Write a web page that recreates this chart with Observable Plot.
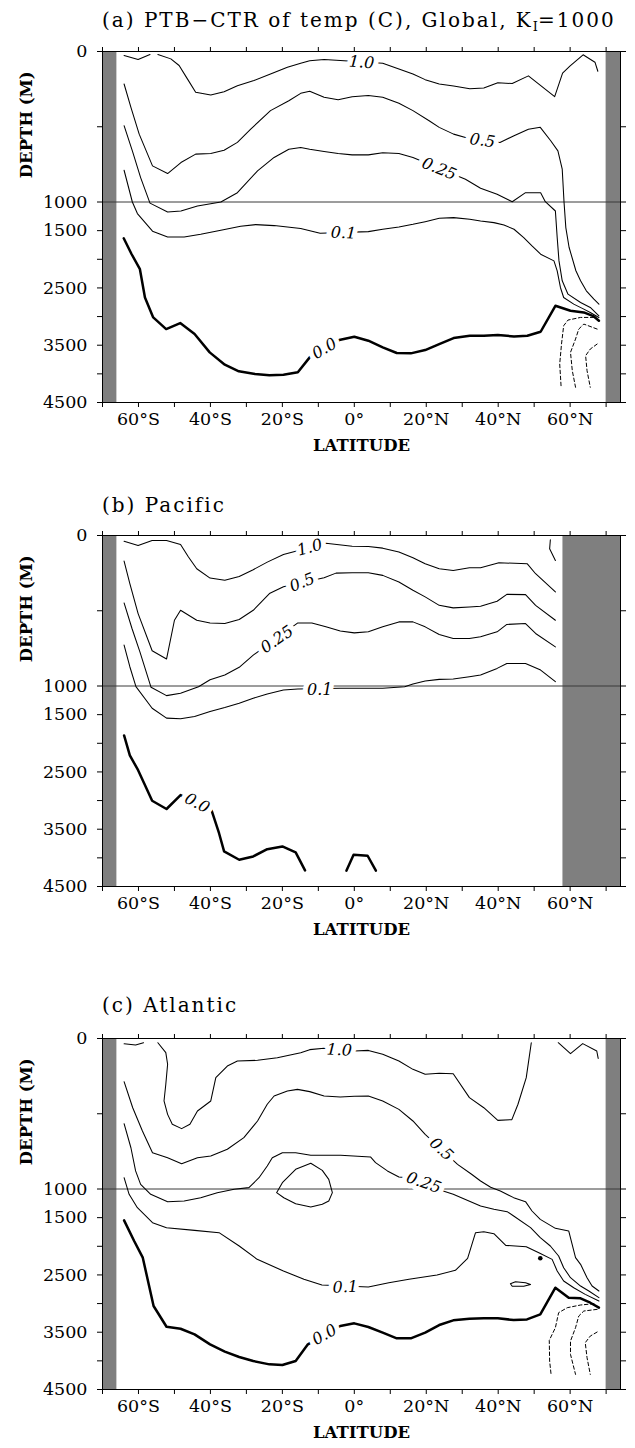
<!DOCTYPE html>
<html><head><meta charset="utf-8">
<script src="https://cdn.jsdelivr.net/npm/d3@7"></script>
<script src="https://cdn.jsdelivr.net/npm/@observablehq/plot@0.6"></script>
<style>
body{margin:0;background:#fff;}
#root{position:relative;width:635px;height:1448px;overflow:hidden;font-family:"DejaVu Serif",serif;color:#000;}
.title{position:absolute;left:102px;font-size:20px;letter-spacing:2px;white-space:nowrap;line-height:22px;}
.title sub{font-size:13px;letter-spacing:0;vertical-align:-4px;line-height:0;}
.panel{position:absolute;left:0;overflow:visible;}
</style></head><body><div id="root"></div>
<script>
// ---- axes ----
const LAT_DOMAIN = [-70, 74];
const LAT_TICKS = [-70,-60,-50,-40,-30,-20,-10,0,10,20,30,40,50,60,70];
const LAT_LABELED = [-60,-40,-20,0,20,40,60];
const DEPTH_BREAKS = [0, 1000, 4500];
const DEPTH_TICKS = [0,500,1000,1500,2000,2500,3000,3500,4000,4500];
const DEPTH_LABELED = [0,1000,1500,2500,3500,4500];

// ---- land masks (lat from, lat to) ----
const landA = [[-70,-66],[70,74]];
const landB = [[-70,-66],[58,74]];
const landC = [[-70,-66],[70,74]];

// ---- panel (a) Global contours [lat, depth] ----
const a_c100_1 = [[-64.0,27],[-60.1,53],[-56.8,20]];
const a_c100_2 = [[-54.6,20],[-51.0,49],[-48.7,93],[-46.4,182],[-44.1,271],[-39.9,289],[-36.2,267],[-32.5,227],[-27.9,193],[-23.3,149],[-18.6,104],[-14.9,78],[-12.4,62],[-8.4,53],[-3.9,60],[7.9,78],[12.4,116],[16.3,149],[19.7,187],[23.6,216],[27.6,229],[32.1,247],[36.0,242],[39.9,207],[43.9,213],[48.4,162],[55.7,300],[57.9,144],[60.0,96],[63.6,22],[66.9,71],[67.7,131]];
const a_c050 = [[-64.0,216],[-62.1,371],[-59.8,549],[-56.1,760],[-51.9,811],[-48.2,738],[-44.1,682],[-39.9,678],[-36.2,656],[-32.5,604],[-28.8,516],[-23.3,393],[-18.2,327],[-14.9,278],[-12.4,264],[-8.4,304],[-4.5,320],[-0.6,300],[3.9,293],[7.9,304],[12.4,344],[16.3,393],[20.8,460],[23.6,504],[27.6,549],[30.9,571],[40.5,604],[44.4,560],[48.4,516],[51.7,504],[54.6,593],[56.6,660],[57.8,782],[58.3,1000],[58.8,1447],[59.7,1790],[61.6,2200],[62.9,2376],[64.5,2550],[66.6,2696],[68.0,2783]];
const a_c025 = [[-64.0,493],[-61.7,660],[-59.4,838],[-56.8,1020],[-51.9,1174],[-48.2,1157],[-43.6,1070],[-37.1,1000],[-32.5,938],[-26.9,793],[-22.3,704],[-18.2,649],[-14.9,638],[-12.4,649],[-8.4,664],[-4.5,678],[-0.6,687],[3.9,687],[7.9,673],[12.4,678],[16.3,704],[30.9,849],[35.1,909],[39.7,949],[43.9,998],[47.6,938],[51.8,938],[53.1,998],[55.9,1157],[56.4,1621],[56.9,2028],[57.8,2376],[59.4,2609],[62.9,2754],[65.6,2841],[68.0,2986]];
const a_c010 = [[-64.0,789],[-61.7,1000],[-60.3,1202],[-56.1,1510],[-51.9,1610],[-47.3,1610],[-42.7,1563],[-37.1,1493],[-31.6,1424],[-27.4,1395],[-22.3,1412],[-14.9,1464],[-9.5,1546],[3.9,1517],[7.9,1476],[12.4,1436],[16.3,1389],[19.7,1343],[23.6,1285],[27.6,1273],[32.1,1302],[35.1,1331],[38.8,1360],[41.6,1401],[44.4,1476],[47.1,1621],[49.4,1767],[51.8,1912],[55.5,2028],[56.4,2202],[57.3,2492],[58.2,2667],[61.0,2783],[63.8,2870],[65.6,2928],[68.0,3015]];
const a_c000 = [[-64.1,1633],[-61.9,1912],[-59.6,2173],[-58.2,2667],[-55.9,3015],[-52.3,3218],[-48.4,3114],[-44.4,3305],[-40.2,3625],[-36.0,3840],[-32.1,3956],[-27.6,4002],[-23.6,4026],[-19.7,4014],[-15.7,3973],[-12.4,3712],[-4.2,3410],[0,3352],[3.9,3421],[7.9,3538],[11.8,3636],[15.7,3642],[19.7,3584],[23.6,3480],[27.6,3375],[32.1,3334],[36.0,3334],[39.9,3323],[44.4,3346],[48.1,3334],[51.8,3265],[55.9,2812],[60.1,2899],[63.8,2928],[66.6,2998],[68.0,3073]];
const a_neg1 = [[66.6,3015],[62.9,3015],[59.4,3061],[58.2,3160],[57.6,3480],[57.1,3828],[57.5,4234]];
const a_neg2 = [[67.5,3218],[63.8,3131],[62.4,3218],[61.5,3392],[60.1,3625],[60.6,3944],[61.5,4234]];
const a_neg3 = [[67.5,3480],[65.6,3567],[64.3,3683],[64.7,3944],[65.6,4234]];
const a_labels = [["1.0",2.0,72,4],["0.5",35.6,592,8],["0.25",23.6,780,22],["0.1",-3.0,1540,3],["0.0",-8.3,3560,-30]];

// ---- panel (b) Pacific ----
const b_c100_1 = [[-64.0,38],[-60.1,66],[-56.2,33],[-52.2,33],[-48.3,60],[-46.1,143],[-43.8,221],[-40.1,283],[-36.0,298],[-32.0,272],[-28.1,227],[-24.2,177],[-19.7,126],[-7.9,51],[-0.6,71],[3.9,73],[7.9,84],[12.4,110],[16.3,148],[19.7,188],[23.6,221],[27.5,232],[32.0,214],[35.1,214],[40.2,181],[48.1,188],[50.4,254],[55.9,375]];
const b_c100_2 = [[54.5,28],[54.3,88],[55.9,166]];
const b_c050 = [[-64.0,170],[-62.4,320],[-60.1,519],[-56.2,766],[-52.2,821],[-50.0,563],[-48.3,497],[-43.8,563],[-40.1,581],[-36.0,585],[-32.0,558],[-28.1,497],[-23.6,386],[-19.7,340],[-8.4,280],[-5.1,250],[-0.6,247],[3.9,247],[7.9,265],[12.4,309],[16.3,364],[19.7,408],[23.6,464],[27.5,481],[32.0,475],[35.1,470],[39.7,437],[42.4,391],[47.6,393],[50.4,464],[55.9,563]];
const b_c025 = [[-64.0,448],[-61.8,618],[-59.6,773],[-56.5,1023],[-52.2,1168],[-48.3,1127],[-43.3,1012],[-40.1,958],[-36.0,927],[-32.0,876],[-28.1,795],[-15.7,581],[-11.8,581],[-7.9,607],[-3.9,634],[0,647],[3.9,640],[7.9,607],[12.4,574],[16.3,574],[19.7,607],[23.6,658],[27.5,684],[32.0,684],[35.1,673],[39.7,640],[42.4,591],[47.6,585],[50.4,651],[55.9,740]];
const b_c010 = [[-64.0,728],[-62.4,872],[-60.7,1012],[-56.2,1388],[-52.2,1561],[-48.3,1573],[-44.4,1532],[-40.1,1446],[-36.0,1376],[-32.0,1301],[-28.1,1214],[-24.2,1139],[-19.7,1069],[-15.7,1052],[-3.9,1041],[0,1041],[7.9,1041],[14.0,1012],[16.3,987],[19.7,967],[23.6,956],[27.5,954],[32.0,938],[35.1,927],[39.7,883],[42.4,850],[47.6,850],[51.8,894],[55.9,971]];
const b_c000_1 = [[-64.0,1863],[-62.4,2210],[-60.1,2470],[-58.4,2702],[-56.2,3003],[-52.2,3147],[-48.3,2904],[-39.7,3165],[-37.6,3570],[-36.2,3888],[-32.0,4033],[-28.1,3975],[-24.2,3848],[-20.0,3801],[-16.3,3905],[-13.7,4218]];
const b_c000_2 = [[-2.2,4224],[-0.2,3946],[3.7,3963],[6.0,4224]];
const b_labels = [["1.0",-12.4,80,-15],["0.5",-14.5,312,-22],["0.25",-21.5,690,-35],["0.1",-9.6,1060,0],["0.0",-43.7,3045,28]];

// ---- panel (c) Atlantic ----
const c_c100_1 = [[-64.0,35],[-60.8,43],[-58.6,28]];
const c_c100_2 = [[-54.6,28],[-52.4,94],[-51.9,171],[-52.4,304],[-52.9,415],[-51.9,504],[-50.6,570],[-48.0,599],[-45.7,570],[-43.6,482],[-39.9,415],[-38.5,260],[-35.3,183],[-32.5,150],[-26.9,145],[-21.4,128],[-14.9,94],[-12.4,74],[-8.4,65],[0,83],[3.9,79],[7.9,105],[12.4,150],[16.3,205],[19.7,238],[23.6,231],[27.5,234],[32.0,393],[36.0,460],[39.9,544],[43.8,539],[45.5,437],[47.8,260],[49.2,28]];
const c_c100_3 = [[56.7,28],[60.1,101],[63.5,34],[67.4,83],[67.8,132]];
const c_c050 = [[-64.0,287],[-61.6,460],[-58.9,615],[-56.1,759],[-51.9,792],[-48.0,832],[-43.6,792],[-39.9,781],[-35.3,736],[-30.7,659],[-26.9,548],[-24.2,437],[-22.3,382],[-18.6,349],[-15.8,338],[-12.4,353],[-8.4,382],[-3.9,389],[0,384],[3.9,382],[7.9,415],[12.4,471],[16.3,548],[19.7,637],[28.7,836],[32.6,902],[35.1,947],[37.9,988],[40.6,1035],[44.3,1151],[47.6,1221],[49.4,1384],[51.7,1530],[55.9,1687],[59.6,1733],[61.5,2199],[62.9,2315],[64.7,2548],[66.1,2694],[68.0,2781]];
const c_c025 = [[-64.0,566],[-62.1,726],[-60.8,880],[-59.4,969],[-56.6,1093],[-51.9,1222],[-47.3,1209],[-42.7,1152],[-38.1,1064],[-33.4,1005],[-29.3,991],[-26.5,925],[-24.2,847],[-22.8,792],[-20.0,759],[-16.3,759],[-12.1,776],[-3.8,776],[4.5,787],[5.9,825],[9.2,880],[12.4,920],[16.1,929],[23.0,1000],[27.5,1093],[35.1,1297],[38.8,1355],[42.5,1396],[44.3,1471],[49.0,1675],[51.7,1850],[54.5,1995],[56.8,2170],[58.2,2374],[60.1,2548],[62.9,2694],[65.2,2781],[68.0,2897]];
const c_c025_loop = [[-12.1,829],[-8.9,876],[-7.1,936],[-6.1,1064],[-7.1,1209],[-8.9,1267],[-12.1,1314],[-16.3,1256],[-19.6,1152],[-21.6,1064],[-20.0,958],[-16.3,869],[-12.1,829]];
const c_c010 = [[-64.0,925],[-62.6,1093],[-60.3,1326],[-56.1,1588],[-52.2,1675],[-44.4,1722],[-37.6,1762],[-32.0,1995],[-27.0,2228],[-19.7,2432],[-14.0,2577],[-9.0,2676],[3.9,2711],[9.6,2635],[15.2,2577],[23.0,2502],[28.1,2420],[31.5,2211],[33.7,1762],[36.0,1745],[38.8,1780],[42.1,1984],[47.8,2007],[51.3,2112],[55.0,2228],[56.4,2432],[58.2,2607],[61.0,2723],[64.2,2839],[68.0,2956]];
const c_c010_loop = [[43.4,2653],[44.8,2618],[47.6,2635],[49.0,2665],[47.1,2699],[43.9,2699],[43.4,2653]];
const c_spot = [[51.7,2210]];
const c_c000 = [[-64.0,1547],[-61.2,1908],[-58.8,2199],[-55.8,3043],[-52.2,3404],[-48.3,3439],[-44.4,3538],[-40.1,3712],[-36.0,3840],[-32.0,3933],[-28.1,4003],[-23.6,4061],[-20.0,4073],[-16.3,4003],[-12.9,3712],[-3.9,3392],[0,3345],[3.9,3409],[7.9,3508],[11.8,3607],[15.7,3607],[19.7,3508],[23.6,3375],[27.5,3293],[32.0,3264],[36.0,3258],[39.9,3258],[44.3,3287],[48.0,3276],[51.7,3188],[55.9,2723],[59.6,2897],[62.9,2909],[65.6,2985],[68.0,3072]];
const c_neg1 = [[66.6,3002],[62.9,3025],[59.2,3072],[56.8,3159],[55.9,3421],[54.2,3642],[54.3,4003],[54.7,4236]];
const c_neg2 = [[67.5,3101],[63.8,3130],[62.4,3217],[61.5,3421],[60.1,3654],[60.1,3887],[61.5,4236]];
const c_neg3 = [[67.5,3497],[65.6,3567],[64.2,3683],[64.7,3945],[65.6,4236]];
const c_labels = [["1.0",-4.2,76,3],["0.5",24.2,736,43],["0.25",19.3,958,20],["0.1",-2.5,2712,-2],["0.0",-8.3,3545,-30]];

// ---- panel definitions ----
const panels = [
  {title: '(a) PTB\u2212CTR of temp (C), Global, K<sub>I</sub>=1000', titleY: 20, frameTop: 51,
   land: landA, pos: [a_c100_1,a_c100_2,a_c050,a_c025,a_c010], zero: [a_c000], neg: [a_neg1,a_neg2,a_neg3], spots: [], labels: a_labels},
  {title: '(b) Pacific', titleY: 505, frameTop: 535,
   land: landB, pos: [b_c100_1,b_c100_2,b_c050,b_c025,b_c010], zero: [b_c000_1,b_c000_2], neg: [], spots: [], labels: b_labels},
  {title: '(c) Atlantic', titleY: 1005, frameTop: 1037.5,
   land: landC, pos: [c_c100_1,c_c100_2,c_c100_3,c_c050,c_c025,c_c025_loop,c_c010,c_c010_loop], zero: [c_c000], neg: [c_neg1,c_neg2,c_neg3], spots: c_spot, labels: c_labels}
];

function rowsOf(pieces) {
  const out = [];
  pieces.forEach((pts, i) => pts.forEach(([lat, depth]) => out.push({lat, depth, id: i})));
  return out;
}
const fmtLat = v => v === 0 ? "0\u00b0" : `${Math.abs(v)}\u00b0${v < 0 ? "S" : "N"}`;

const MT = 12, MB = 58, UPPER = 150.5, FULL = 351;
const root = document.getElementById("root");

for (const p of panels) {
  const t = document.createElement("div");
  t.className = "title";
  t.innerHTML = p.title;
  t.style.top = (p.titleY - 11) + "px";
  root.appendChild(t);

  const chart = Plot.plot({
    width: 635, height: MT + FULL + MB,
    marginLeft: 102, marginRight: 15, marginTop: MT, marginBottom: MB,
    style: {fontFamily: "DejaVu Serif, serif", fontSize: "17.5px", color: "#000", background: "#fff", overflow: "visible"},
    x: {type: "linear", domain: LAT_DOMAIN, axis: null},
    y: {type: "linear", domain: DEPTH_BREAKS, range: [MT, MT + UPPER, MT + FULL], axis: null},
    marks: [
      Plot.rect(p.land, {x1: d => d[0], x2: d => d[1], y1: () => 0, y2: () => 4500, fill: "#7f7f7f"}),
      Plot.ruleY([1000], {stroke: "#3a3a3a", strokeWidth: 1}),
      Plot.line(rowsOf(p.pos), {x: "lat", y: "depth", z: "id", stroke: "#000", strokeWidth: 1.05}),
      Plot.line(rowsOf(p.zero), {x: "lat", y: "depth", z: "id", stroke: "#000", strokeWidth: 2.5}),
      Plot.line(rowsOf(p.neg), {x: "lat", y: "depth", z: "id", stroke: "#000", strokeWidth: 1, strokeDasharray: "3.5,2.5"}),
      Plot.dot(p.spots, {x: d => d[0], y: d => d[1], r: 2.3, fill: "#000"}),
      Plot.text(p.labels, {x: d => d[1], y: d => d[2], text: d => d[0], rotate: d => d[3],
        fontSize: 16, fontStyle: "italic", fill: "#000", stroke: "#fff", strokeWidth: 10, paintOrder: "stroke"}),
      Plot.frame({stroke: "#000", strokeWidth: 1}),
      Plot.axisY(DEPTH_TICKS, {anchor: "left", tickSize: 5, tickPadding: 10, label: null,
        tickFormat: d => DEPTH_LABELED.includes(d) ? String(d) : ""}),
      Plot.axisY(DEPTH_TICKS, {anchor: "right", tickSize: 5, label: null, tickFormat: () => ""}),
      Plot.axisX(LAT_TICKS, {anchor: "bottom", tickSize: 5, tickPadding: 5, label: null,
        tickFormat: d => LAT_LABELED.includes(d) ? fmtLat(d) : ""}),
      Plot.axisX(LAT_TICKS, {anchor: "top", tickSize: 5, label: null, tickFormat: () => ""}),
      Plot.text(["DEPTH (M)"], {text: d => d, y: () => 487, frameAnchor: "left", textAnchor: "middle", dx: -76, rotate: -90,
        fontWeight: "bold", fontSize: 16.5}),
      Plot.text(["LATITUDE"], {text: d => d, frameAnchor: "bottom", textAnchor: "middle", dy: 48.5, fontWeight: "bold", fontSize: 16.5})
    ]
  });
  chart.classList.add("panel");
  chart.style.top = (p.frameTop - MT) + "px";
  root.appendChild(chart);
}
</script></body></html>
